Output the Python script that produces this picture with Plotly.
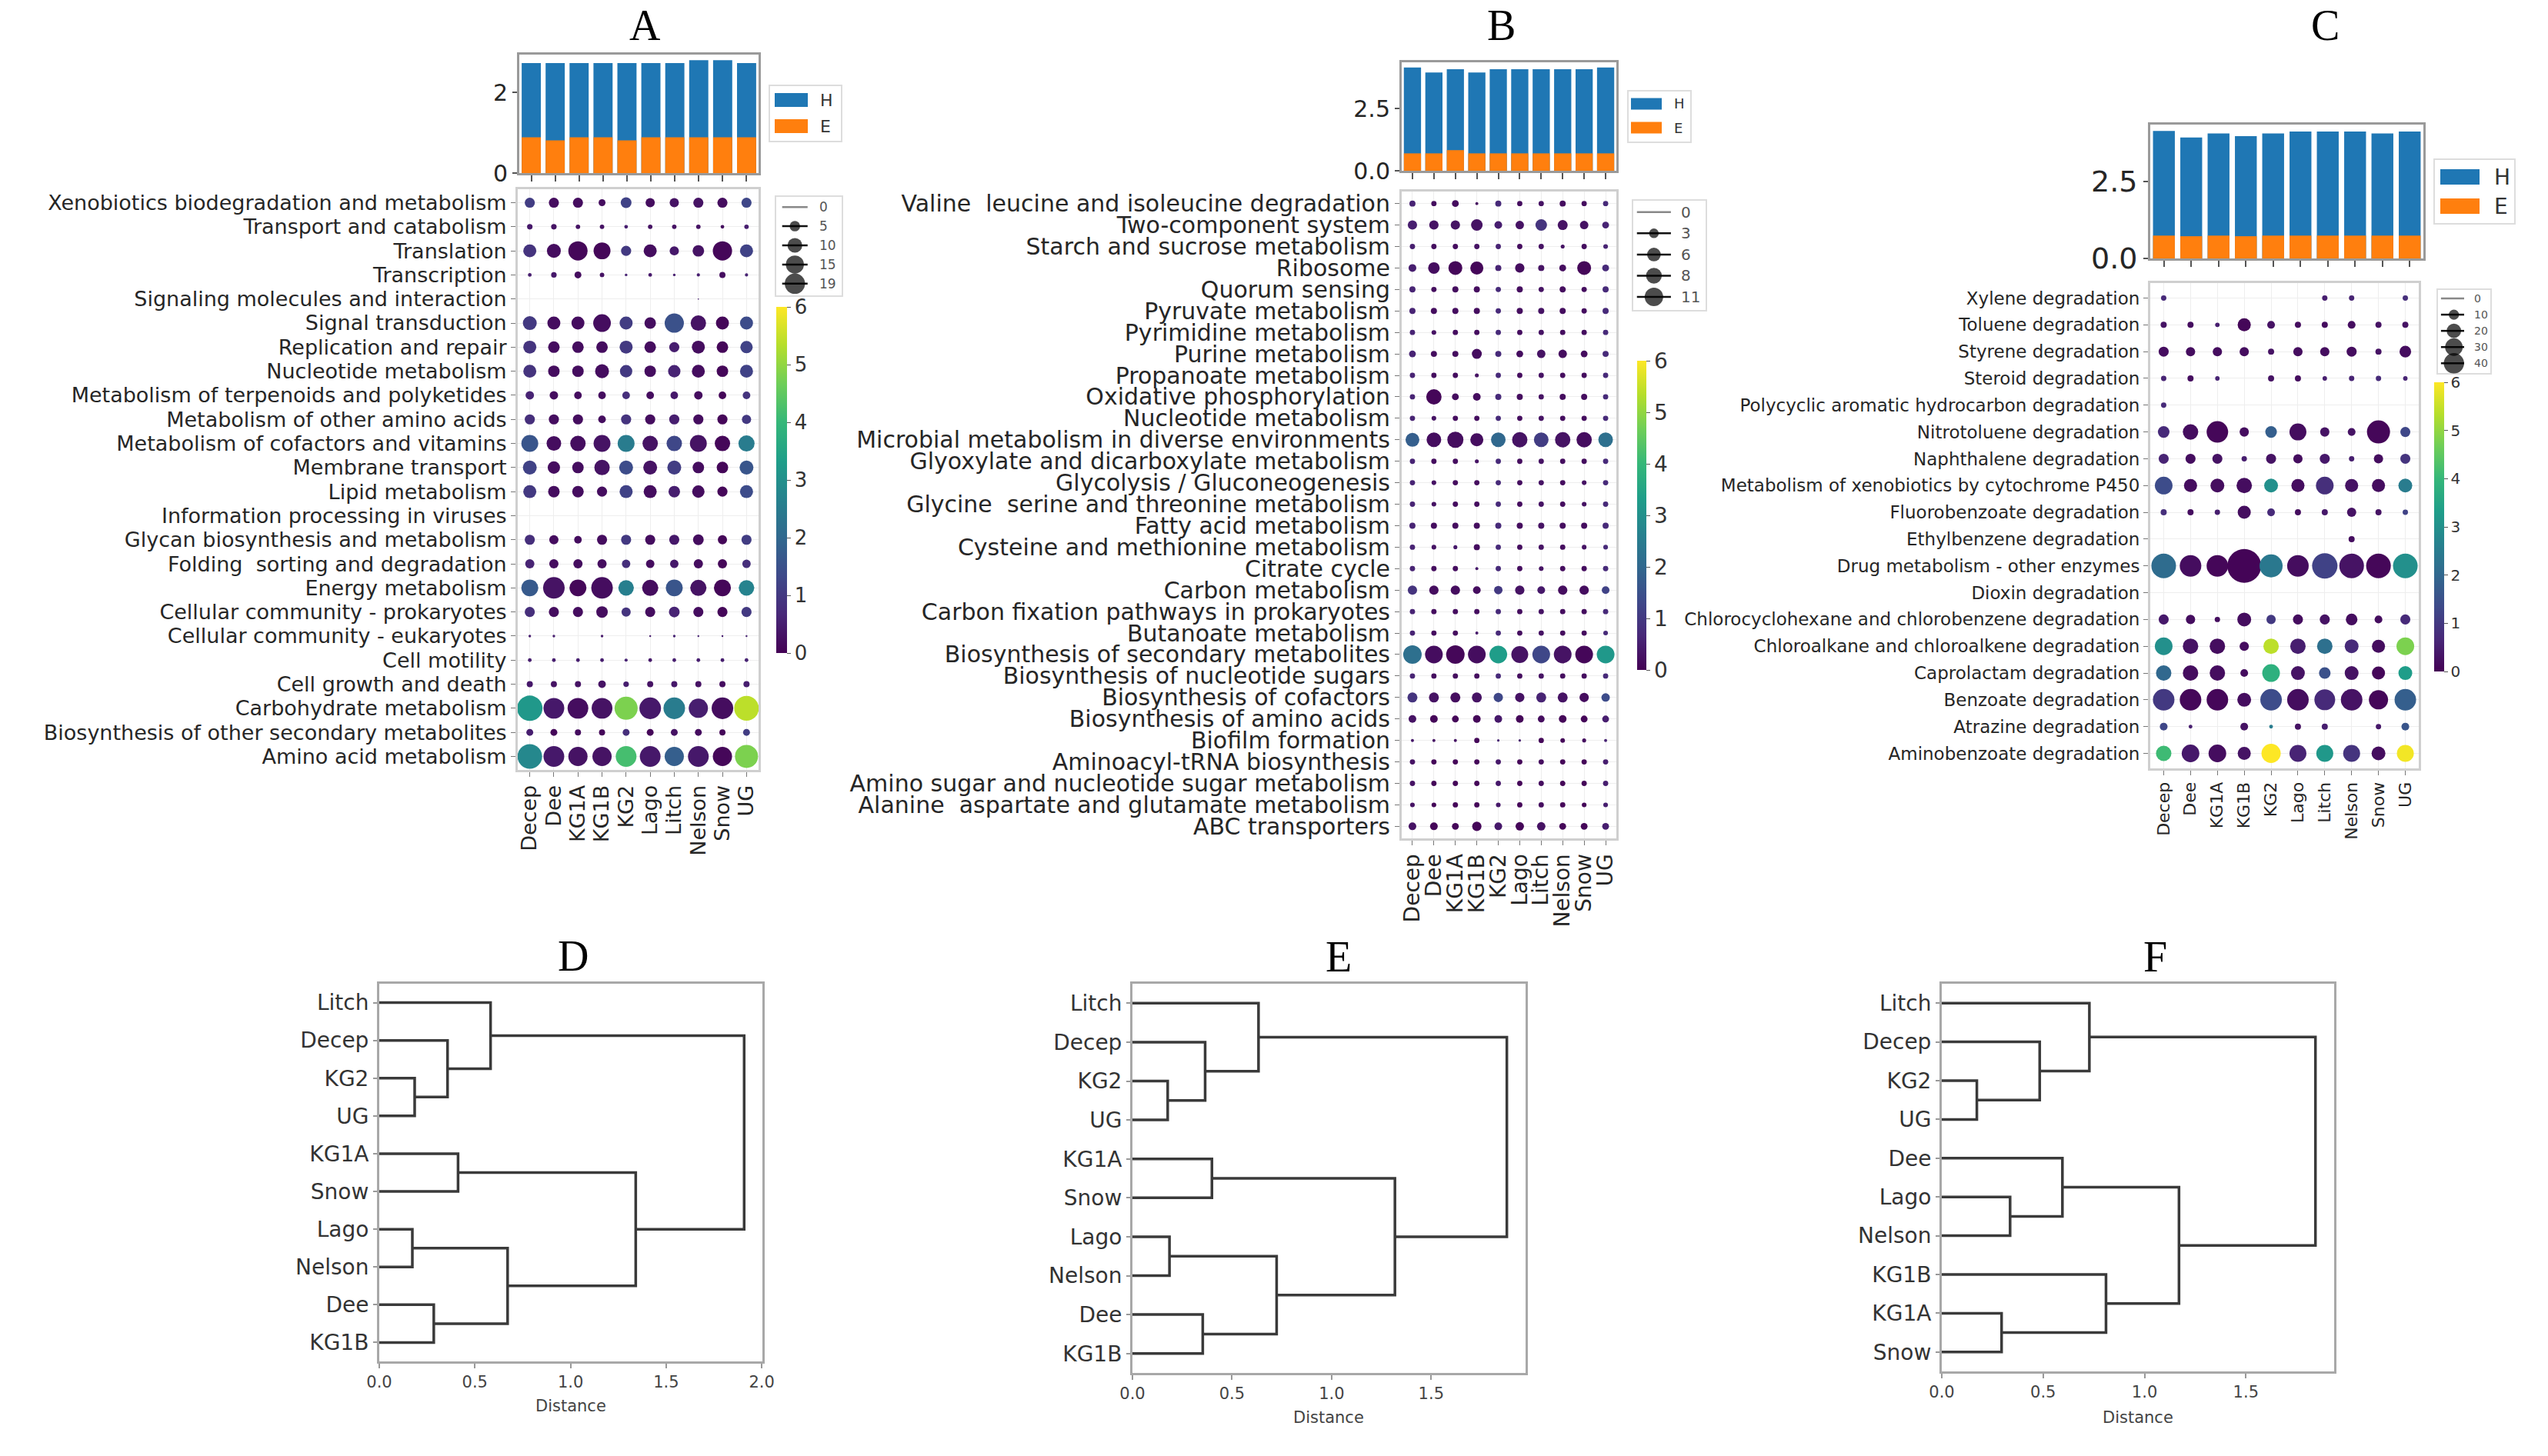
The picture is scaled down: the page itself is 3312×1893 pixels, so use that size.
import plotly.graph_objects as go

W, H = 3312, 1893

sites = ["Decep", "Dee", "KG1A", "KG1B", "KG2", "Lago", "Litch", "Nelson", "Snow", "UG"]

# ---------------- Panel A : KEGG level-2 pathways ----------------
a_shannon = [2.73, 2.73, 2.73, 2.73, 2.73, 2.73, 2.73, 2.80, 2.80, 2.73]
a_evenness = [0.89, 0.81, 0.89, 0.89, 0.81, 0.89, 0.89, 0.89, 0.89, 0.89]
a_pathways = [
    "Xenobiotics biodegradation and metabolism", "Transport and catabolism", "Translation",
    "Transcription", "Signaling molecules and interaction", "Signal transduction",
    "Replication and repair", "Nucleotide metabolism", "Metabolism of terpenoids and polyketides",
    "Metabolism of other amino acids", "Metabolism of cofactors and vitamins", "Membrane transport",
    "Lipid metabolism", "Information processing in viruses", "Glycan biosynthesis and metabolism",
    "Folding  sorting and degradation", "Energy metabolism", "Cellular community - prokaryotes",
    "Cellular community - eukaryotes", "Cell motility", "Cell growth and death",
    "Carbohydrate metabolism", "Biosynthesis of other secondary metabolites", "Amino acid metabolism",
]
a_abund = [
    [3.0, 3.0, 3.0, 1.4, 3.4, 2.5, 2.5, 3.0, 3.0, 3.0],
    [0.9, 0.9, 0.6, 0.6, 0.4, 0.6, 0.6, 0.6, 0.4, 0.6],
    [5.0, 5.7, 10.9, 8.4, 3.0, 5.0, 2.5, 3.9, 10.9, 5.0],
    [0.4, 0.9, 1.4, 0.6, 0.2, 0.4, 0.2, 0.3, 1.1, 0.3],
    [0, 0, 0, 0, 0, 0, 0, 0.05, 0, 0],
    [5.7, 5.0, 5.0, 9.2, 5.0, 3.9, 10.9, 7.0, 5.0, 5.0],
    [5.0, 3.9, 3.9, 3.9, 5.0, 3.9, 3.0, 5.0, 3.9, 4.5],
    [5.0, 3.9, 3.9, 5.7, 4.5, 3.9, 4.5, 5.0, 3.9, 5.0],
    [2.1, 2.1, 1.7, 1.7, 1.7, 1.7, 1.7, 2.1, 1.7, 1.7],
    [3.0, 3.0, 3.0, 1.7, 3.0, 3.0, 3.0, 3.0, 3.0, 2.5],
    [8.4, 6.3, 7.0, 8.4, 8.4, 7.0, 7.0, 8.4, 7.0, 7.7],
    [5.7, 4.5, 3.9, 7.0, 5.7, 5.7, 5.7, 3.9, 3.9, 5.7],
    [5.0, 3.9, 3.9, 3.0, 5.0, 5.0, 3.9, 4.5, 3.0, 5.0],
    [0, 0, 0, 0, 0, 0, 0, 0, 0, 0],
    [3.0, 2.5, 1.7, 3.0, 3.0, 3.0, 3.0, 3.4, 2.5, 3.0],
    [2.5, 2.5, 2.5, 2.5, 2.1, 2.1, 2.1, 2.5, 2.5, 2.1],
    [8.4, 13.7, 8.4, 13.7, 7.0, 7.7, 8.4, 7.7, 8.4, 7.0],
    [3.0, 3.0, 3.0, 3.9, 2.5, 3.0, 3.4, 3.0, 3.0, 3.0],
    [0.2, 0.2, 0, 0.2, 0, 0.1, 0.2, 0.1, 0.1, 0.1],
    [0.4, 0.4, 0.4, 0.4, 0.3, 0.4, 0.4, 0.4, 0.4, 0.4],
    [1.1, 1.1, 1.1, 1.7, 0.9, 1.1, 1.1, 1.1, 1.1, 1.1],
    [19.0, 12.7, 12.7, 12.7, 15.7, 13.7, 13.7, 10.9, 13.7, 17.9],
    [1.4, 1.4, 1.1, 1.1, 1.4, 1.4, 1.4, 1.4, 1.1, 1.4],
    [17.9, 12.7, 10.9, 10.9, 12.7, 12.7, 10.9, 12.7, 10.9, 15.7],
]
a_color = [
    [1.1, 0.2, 0.2, 0.2, 1.2, 0.2, 0.3, 0.3, 0.2, 1.3],
    [0.4, 0.3, 0.3, 0.3, 0.5, 0.3, 0.3, 0.3, 0.2, 0.5],
    [0.9, 0.2, 0.1, 0.1, 1.0, 0.2, 0.4, 0.3, 0.1, 1.2],
    [0.5, 0.4, 0.2, 0.3, 0.6, 0.4, 0.5, 0.5, 0.2, 0.6],
    [0, 0, 0, 0, 0, 0, 0, 0.5, 0, 0],
    [1.0, 0.2, 0.2, 0.2, 1.1, 0.2, 1.5, 0.3, 0.1, 1.4],
    [0.9, 0.2, 0.2, 0.2, 1.0, 0.2, 0.5, 0.2, 0.1, 1.2],
    [0.9, 0.2, 0.2, 0.2, 1.0, 0.2, 0.6, 0.2, 0.1, 1.2],
    [0.6, 0.2, 0.2, 0.2, 0.8, 0.2, 0.4, 0.2, 0.1, 0.9],
    [0.8, 0.2, 0.2, 0.2, 0.9, 0.2, 0.5, 0.2, 0.1, 1.0],
    [1.6, 0.2, 0.2, 0.3, 2.5, 0.3, 1.3, 0.3, 0.1, 2.5],
    [1.2, 0.2, 0.2, 0.3, 1.4, 0.3, 1.1, 0.2, 0.1, 1.6],
    [1.0, 0.2, 0.2, 0.2, 1.2, 0.2, 0.5, 0.2, 0.1, 1.4],
    [0, 0, 0, 0, 0, 0, 0, 0, 0, 0],
    [0.8, 0.2, 0.2, 0.2, 1.0, 0.2, 0.4, 0.2, 0.1, 1.1],
    [0.6, 0.2, 0.2, 0.2, 0.8, 0.2, 0.4, 0.2, 0.1, 0.8],
    [1.7, 0.3, 0.1, 0.2, 2.6, 0.2, 1.6, 0.3, 0.1, 2.7],
    [0.8, 0.2, 0.2, 0.2, 0.9, 0.2, 0.6, 0.2, 0.1, 1.0],
    [0.5, 0.5, 0, 0.4, 0, 0.5, 0.6, 0.6, 0.5, 0.6],
    [0.5, 0.5, 0.5, 0.5, 0.6, 0.4, 0.5, 0.5, 0.5, 0.6],
    [0.4, 0.3, 0.3, 0.3, 0.5, 0.3, 0.4, 0.3, 0.2, 0.5],
    [3.2, 0.4, 0.2, 0.3, 4.8, 0.4, 2.5, 0.5, 0.2, 5.4],
    [0.5, 0.1, 0.2, 0.1, 0.8, 0.1, 0.3, 0.2, 0.1, 1.1],
    [2.8, 0.4, 0.3, 0.3, 4.2, 0.4, 1.8, 0.4, 0.1, 4.8],
]
a_size_ticks = [0, 5, 10, 15, 19]

# ---------------- Panel B : KEGG level-3 pathways ----------------
b_shannon = [4.16, 3.96, 4.09, 3.96, 4.09, 4.09, 4.09, 4.09, 4.09, 4.16]
b_evenness = [0.70, 0.70, 0.83, 0.70, 0.70, 0.70, 0.70, 0.70, 0.70, 0.70]
b_pathways = [
    "Valine  leucine and isoleucine degradation", "Two-component system",
    "Starch and sucrose metabolism", "Ribosome", "Quorum sensing", "Pyruvate metabolism",
    "Pyrimidine metabolism", "Purine metabolism", "Propanoate metabolism",
    "Oxidative phosphorylation", "Nucleotide metabolism",
    "Microbial metabolism in diverse environments", "Glyoxylate and dicarboxylate metabolism",
    "Glycolysis / Gluconeogenesis", "Glycine  serine and threonine metabolism",
    "Fatty acid metabolism", "Cysteine and methionine metabolism", "Citrate cycle",
    "Carbon metabolism", "Carbon fixation pathways in prokaryotes", "Butanoate metabolism",
    "Biosynthesis of secondary metabolites", "Biosynthesis of nucleotide sugars",
    "Biosynthesis of cofactors", "Biosynthesis of amino acids", "Biofilm formation",
    "Aminoacyl-tRNA biosynthesis", "Amino sugar and nucleotide sugar metabolism",
    "Alanine  aspartate and glutamate metabolism", "ABC transporters",
]
b_abund = [
    [1.2, 0.9, 1.5, 0.3, 1.2, 0.9, 0.9, 1.2, 0.9, 0.9],
    [2.8, 2.8, 2.8, 4.3, 1.9, 2.3, 4.3, 3.2, 2.3, 1.5],
    [0.9, 0.9, 0.9, 0.9, 0.9, 0.9, 0.9, 0.5, 0.9, 0.7],
    [1.9, 4.3, 6.2, 5.5, 1.2, 2.8, 1.2, 1.5, 6.2, 1.5],
    [1.2, 0.9, 1.2, 1.2, 0.9, 1.2, 0.9, 1.2, 0.9, 1.2],
    [1.2, 1.2, 1.2, 1.2, 0.9, 1.2, 1.2, 1.2, 0.9, 1.2],
    [0.9, 0.7, 0.9, 0.9, 0.9, 0.9, 0.9, 0.9, 0.9, 0.9],
    [1.5, 1.2, 1.2, 3.2, 1.2, 1.5, 2.3, 2.3, 1.5, 1.2],
    [0.9, 0.9, 0.9, 0.5, 0.9, 0.9, 0.9, 0.9, 0.9, 0.9],
    [0.9, 7.6, 1.5, 1.9, 1.2, 1.2, 0.9, 1.2, 1.2, 0.9],
    [0.9, 0.7, 0.9, 0.9, 0.9, 0.9, 0.9, 0.9, 0.9, 0.9],
    [6.2, 6.9, 8.4, 5.5, 6.9, 7.6, 6.9, 7.6, 7.6, 6.9],
    [0.9, 0.9, 0.9, 0.5, 0.9, 0.9, 0.9, 0.9, 0.9, 0.9],
    [0.9, 0.7, 0.9, 0.9, 0.9, 0.9, 0.9, 0.9, 0.7, 0.9],
    [0.9, 0.7, 0.9, 0.9, 0.9, 0.9, 0.9, 0.9, 0.7, 0.9],
    [1.2, 1.2, 1.2, 1.2, 1.2, 1.2, 1.2, 1.2, 1.2, 1.2],
    [0.9, 0.7, 0.5, 1.2, 0.9, 0.9, 0.9, 0.9, 0.7, 0.7],
    [0.9, 0.9, 0.9, 0.3, 0.9, 0.9, 0.7, 0.9, 0.9, 0.9],
    [2.8, 2.8, 2.8, 1.9, 2.3, 2.8, 1.9, 2.8, 2.8, 1.9],
    [0.9, 0.9, 0.9, 0.9, 0.9, 0.9, 0.9, 0.9, 0.9, 0.9],
    [0.9, 0.9, 0.9, 0.3, 0.9, 0.9, 0.9, 0.9, 0.9, 0.7],
    [11.0, 10.1, 11.0, 10.1, 10.1, 9.2, 10.1, 10.1, 10.1, 10.1],
    [0.9, 0.9, 0.9, 0.9, 0.9, 0.9, 0.9, 0.9, 0.9, 0.9],
    [3.2, 3.2, 3.2, 3.2, 2.8, 2.8, 3.2, 3.2, 2.8, 2.3],
    [1.9, 1.9, 1.5, 1.9, 1.9, 1.9, 1.5, 1.9, 1.5, 1.5],
    [0.3, 0.3, 0.3, 0.9, 0.2, 0.2, 0.9, 0.7, 0.5, 0.3],
    [0.9, 0.9, 0.9, 0.9, 0.9, 0.9, 0.9, 0.9, 0.9, 0.9],
    [0.9, 0.9, 0.9, 0.9, 0.9, 0.9, 0.9, 0.9, 0.9, 0.9],
    [0.7, 0.7, 0.9, 0.9, 0.7, 0.9, 0.9, 0.9, 0.7, 0.7],
    [1.9, 1.9, 1.5, 2.8, 1.9, 2.3, 2.3, 1.5, 1.5, 1.5],
]
b_color = [
    [0.6, 0.2, 0.2, 0.2, 0.7, 0.2, 0.3, 0.2, 0.2, 0.7],
    [0.5, 0.3, 0.3, 0.3, 0.5, 0.3, 0.9, 0.3, 0.3, 0.6],
    [0.5, 0.2, 0.2, 0.3, 0.6, 0.2, 0.3, 0.3, 0.2, 0.6],
    [0.5, 0.2, 0.1, 0.1, 0.6, 0.2, 0.3, 0.2, 0.1, 0.7],
    [0.6, 0.2, 0.2, 0.2, 0.7, 0.2, 0.3, 0.2, 0.2, 0.7],
    [0.6, 0.2, 0.2, 0.2, 0.7, 0.2, 0.3, 0.2, 0.2, 0.7],
    [0.6, 0.3, 0.2, 0.2, 0.7, 0.2, 0.3, 0.2, 0.2, 0.7],
    [0.6, 0.2, 0.2, 0.2, 0.7, 0.2, 0.3, 0.2, 0.2, 0.7],
    [0.6, 0.2, 0.2, 0.3, 0.7, 0.2, 0.3, 0.2, 0.2, 0.7],
    [0.6, 0.1, 0.2, 0.2, 0.7, 0.2, 0.3, 0.2, 0.2, 0.7],
    [0.6, 0.3, 0.2, 0.2, 0.7, 0.2, 0.3, 0.2, 0.2, 0.7],
    [1.8, 0.2, 0.2, 0.2, 2.0, 0.3, 1.1, 0.3, 0.2, 2.2],
    [0.6, 0.2, 0.2, 0.3, 0.7, 0.2, 0.3, 0.2, 0.2, 0.7],
    [0.6, 0.3, 0.2, 0.2, 0.7, 0.2, 0.3, 0.2, 0.3, 0.7],
    [0.6, 0.3, 0.2, 0.2, 0.7, 0.2, 0.3, 0.2, 0.3, 0.7],
    [0.6, 0.2, 0.2, 0.2, 0.7, 0.2, 0.3, 0.2, 0.2, 0.7],
    [0.6, 0.3, 0.4, 0.2, 0.7, 0.2, 0.3, 0.2, 0.3, 0.7],
    [0.6, 0.2, 0.2, 0.4, 0.7, 0.2, 0.3, 0.2, 0.2, 0.7],
    [0.9, 0.2, 0.2, 0.2, 1.0, 0.3, 0.4, 0.2, 0.2, 1.2],
    [0.6, 0.2, 0.2, 0.2, 0.7, 0.2, 0.3, 0.2, 0.2, 0.7],
    [0.6, 0.2, 0.2, 0.4, 0.7, 0.2, 0.3, 0.2, 0.2, 0.7],
    [2.2, 0.2, 0.1, 0.2, 3.3, 0.3, 1.3, 0.3, 0.1, 3.2],
    [0.6, 0.2, 0.2, 0.2, 0.7, 0.2, 0.3, 0.2, 0.2, 0.7],
    [0.9, 0.3, 0.2, 0.3, 1.3, 0.3, 0.6, 0.3, 0.2, 1.4],
    [0.3, 0.1, 0.1, 0.1, 0.4, 0.1, 0.2, 0.1, 0.1, 0.5],
    [0.4, 0.3, 0.3, 0.1, 0.6, 0.5, 0.1, 0.1, 0.2, 0.6],
    [0.3, 0.1, 0.1, 0.1, 0.4, 0.1, 0.2, 0.1, 0.1, 0.5],
    [0.3, 0.1, 0.1, 0.1, 0.4, 0.1, 0.2, 0.1, 0.1, 0.5],
    [0.3, 0.1, 0.1, 0.1, 0.4, 0.1, 0.2, 0.1, 0.1, 0.5],
    [0.3, 0.1, 0.1, 0.1, 0.4, 0.1, 0.3, 0.1, 0.1, 0.5],
]
b_size_ticks = [0, 3, 6, 8, 11]

# ---------------- Panel C : xenobiotic degradation pathways ----------------
c_shannon = [4.13, 3.92, 4.05, 3.96, 4.05, 4.11, 4.11, 4.11, 4.05, 4.11]
c_evenness = [0.74, 0.72, 0.74, 0.72, 0.74, 0.74, 0.74, 0.74, 0.74, 0.74]
c_pathways = [
    "Xylene degradation", "Toluene degradation", "Styrene degradation", "Steroid degradation",
    "Polycyclic aromatic hydrocarbon degradation", "Nitrotoluene degradation",
    "Naphthalene degradation", "Metabolism of xenobiotics by cytochrome P450",
    "Fluorobenzoate degradation", "Ethylbenzene degradation", "Drug metabolism - other enzymes",
    "Dioxin degradation", "Chlorocyclohexane and chlorobenzene degradation",
    "Chloroalkane and chloroalkene degradation", "Caprolactam degradation",
    "Benzoate degradation", "Atrazine degradation", "Aminobenzoate degradation",
]
c_abund = [
    [1.0, 0, 0, 0, 0, 0, 1.0, 1.0, 0, 1.0],
    [1.3, 1.3, 0.7, 6.0, 2.1, 1.3, 1.3, 2.1, 1.3, 1.3],
    [3.5, 3.0, 3.0, 3.0, 1.3, 3.0, 3.0, 3.5, 1.3, 4.7],
    [1.0, 1.3, 0.7, 0, 1.3, 1.3, 0.7, 1.0, 1.0, 0.7],
    [1.0, 0, 0, 0, 0, 0, 0, 0, 0, 0],
    [4.7, 8.3, 16.2, 3.0, 4.7, 10.0, 3.0, 2.1, 18.6, 3.5],
    [3.5, 3.5, 3.5, 1.0, 3.5, 3.0, 3.5, 1.0, 3.0, 3.5],
    [10.9, 6.0, 6.7, 8.3, 6.7, 6.0, 10.9, 6.0, 6.0, 6.7],
    [1.3, 1.3, 1.0, 6.0, 2.1, 1.3, 1.3, 3.0, 1.3, 1.0],
    [0, 0, 0, 0, 0, 0, 0, 1.3, 0, 0],
    [21.2, 16.2, 16.2, 40.0, 18.6, 16.2, 22.5, 21.2, 21.2, 21.2],
    [0, 0, 0, 0, 0, 0, 0, 0, 0, 0],
    [3.5, 3.0, 1.0, 6.7, 3.0, 3.5, 3.5, 4.7, 2.1, 3.5],
    [10.9, 8.3, 8.3, 3.0, 8.3, 8.3, 8.3, 6.7, 6.0, 10.9],
    [8.3, 8.3, 8.3, 2.1, 10.9, 6.7, 4.7, 6.7, 6.0, 6.7],
    [16.2, 16.2, 16.2, 6.7, 16.2, 16.2, 15.1, 16.2, 12.9, 16.2],
    [2.1, 0.5, 0, 2.1, 0.5, 1.3, 1.3, 0, 1.0, 2.1],
    [8.3, 10.9, 10.9, 6.0, 12.9, 10.0, 10.0, 10.0, 6.7, 10.0],
]
c_color = [
    [0.7, 0, 0, 0, 0, 0, 0.5, 0.6, 0, 0.8],
    [0.3, 0.2, 0.5, 0.1, 0.3, 0.2, 0.2, 0.2, 0.3, 0.3],
    [0.2, 0.2, 0.2, 0.2, 0.3, 0.2, 0.2, 0.2, 0.3, 0.2],
    [0.6, 0.2, 0.6, 0, 0.3, 0.2, 0.5, 0.6, 0.7, 0.6],
    [0.7, 0, 0, 0, 0, 0, 0, 0, 0, 0],
    [0.7, 0.2, 0.1, 0.2, 1.8, 0.2, 0.3, 0.3, 0.1, 1.3],
    [0.6, 0.2, 0.3, 0.5, 0.3, 0.2, 0.4, 0.5, 0.2, 0.9],
    [1.4, 0.2, 0.2, 0.2, 3.0, 0.2, 0.8, 0.3, 0.2, 2.5],
    [0.8, 0.2, 0.5, 0.2, 0.7, 0.2, 0.4, 0.3, 0.3, 1.2],
    [0, 0, 0, 0, 0, 0, 0, 0.2, 0, 0],
    [2.1, 0.2, 0.1, 0.05, 2.4, 0.2, 1.2, 0.3, 0.1, 3.0],
    [0, 0, 0, 0, 0, 0, 0, 0, 0, 0],
    [0.4, 0.2, 0.2, 0.2, 1.0, 0.2, 0.3, 0.2, 0.2, 0.7],
    [3.0, 0.3, 0.2, 0.2, 5.4, 0.5, 2.2, 0.7, 0.2, 4.8],
    [2.0, 0.2, 0.2, 0.2, 3.8, 0.3, 1.5, 0.3, 0.1, 3.3],
    [1.0, 0.1, 0.1, 0.2, 1.4, 0.2, 0.7, 0.3, 0.1, 1.8],
    [1.3, 0.5, 0, 0.3, 2.5, 0.3, 0.5, 0, 0.4, 1.6],
    [4.1, 0.4, 0.2, 0.3, 6.0, 0.6, 3.2, 0.9, 0.2, 5.9],
]
c_size_ticks = [0, 10, 20, 30, 40]

# ---------------- Dendrograms D, E, F : (left, right, distance) ----------------
tree_D = (("Litch", ("Decep", ("KG2", "UG", 0.185), 0.357), 0.582),
          (("KG1A", "Snow", 0.412), (("Lago", "Nelson", 0.173), ("Dee", "KG1B", 0.285), 0.671), 1.341),
          1.908)
tree_E = (("Litch", ("Decep", ("KG2", "UG", 0.177), 0.365), 0.633),
          (("KG1A", "Snow", 0.399), (("Lago", "Nelson", 0.186), ("Dee", "KG1B", 0.353), 0.724), 1.318),
          1.880)
tree_F = (("Litch", ("Decep", ("KG2", "UG", 0.173), 0.483), 0.728),
          (("Dee", ("Lago", "Nelson", 0.337), 0.595), ("KG1B", ("KG1A", "Snow", 0.295), 0.810), 1.170),
          1.843)

# =====================================================================
BLUE, ORANGE = "#1f77b4", "#ff7f0e"
FONT = "DejaVu Sans"
TXT = "#262626"


def px_x(x):
    return x / W


def px_y(y):
    return 1 - y / H


def dom_x(x0, x1):
    return [x0 / W, x1 / W]


def dom_y(y0, y1):
    return [1 - y1 / H, 1 - y0 / H]


fig = go.Figure()
layout = dict(width=W, height=H, margin=dict(l=0, r=0, t=0, b=0, pad=0, autoexpand=False),
              paper_bgcolor="white", plot_bgcolor="white", showlegend=False,
              font=dict(family=FONT, color=TXT), barmode="overlay")
shapes, annotations = [], []


def ax_keys(n):
    s = "" if n == 1 else str(n)
    return "xaxis" + s, "yaxis" + s, "x" + s, "y" + s


# ---------- bar panels ----------
def bar_panel(n, shannon, evenness, xd, yd, dtick, fmt, fsize):
    xk, yk, xr, yr = ax_keys(n)
    fig.add_trace(go.Bar(x=list(range(len(sites))), y=shannon, width=0.8, marker=dict(color=BLUE, line=dict(width=0)),
                         name="H", xaxis=xr, yaxis=yr))
    fig.add_trace(go.Bar(x=list(range(len(sites))), y=evenness, width=0.8, marker=dict(color=ORANGE, line=dict(width=0)),
                         name="E", xaxis=xr, yaxis=yr))
    layout[xk] = dict(domain=dom_x(*xd), anchor=yr, range=[-0.5, 9.5], tickvals=list(range(10)), automargin=False,
                      showticklabels=False, ticks="outside", ticklen=8, tickcolor="#555", tickwidth=2,
                      showline=True, mirror=True, linecolor="#9a9a9a", linewidth=3, showgrid=False, zeroline=False)
    layout[yk] = dict(domain=dom_y(*yd), anchor=xr, range=[0, 1.05 * max(shannon)], dtick=dtick, tickformat=fmt,
                      automargin=False, ticks="outside", ticklen=6, tickcolor="#555", tickwidth=2,
                      tickfont=dict(size=fsize, color=TXT),
                      showline=True, mirror=True, linecolor="#9a9a9a", linewidth=3, showgrid=False, zeroline=False)


bar_panel(1, a_shannon, a_evenness, (675, 986), (71, 225), 2, "d", 30)
bar_panel(3, b_shannon, b_evenness, (1822, 2101), (81, 222), 2.5, ".1f", 30)
bar_panel(5, c_shannon, c_evenness, (2795, 3150), (162, 336), 2.5, ".1f", 38)


def bar_legend(box, sw_x, yh, ye, half, tx, fsize):
    shapes.append(dict(type="rect", xref="paper", yref="paper", x0=px_x(box[0]), x1=px_x(box[1]),
                       y0=px_y(box[3]), y1=px_y(box[2]), line=dict(color="#dddddd", width=2), fillcolor="white",
                       layer="above"))
    for yc, col, lab in ((yh, BLUE, "H"), (ye, ORANGE, "E")):
        shapes.append(dict(type="rect", xref="paper", yref="paper", x0=px_x(sw_x[0]), x1=px_x(sw_x[1]),
                           y0=px_y(yc + half), y1=px_y(yc - half), line=dict(width=0), fillcolor=col, layer="above"))
        annotations.append(dict(xref="paper", yref="paper", x=px_x(tx), y=px_y(yc), text=lab, showarrow=False,
                                xanchor="left", yanchor="middle", font=dict(size=fsize, color="#333")))


bar_legend((1000, 1094, 111, 184), (1007, 1050), 130, 164, 9, 1064, 22)
bar_legend((2116, 2198, 118, 185), (2120, 2160), 135, 166, 7.5, 2174, 18)
bar_legend((3164, 3269, 207, 291), (3172, 3223), 230, 268, 10, 3240, 28)


# ---------- dot panels ----------
def dot_panel(n, pathways, abund, colors, dmax, vmax, cax, xd, yd, yfont, xfont):
    xk, yk, xr, yr = ax_keys(n)
    xs, ys, ss, cs = [], [], [], []
    for i, row in enumerate(abund):
        for j, v in enumerate(row):
            if v > 0:
                xs.append(j)
                ys.append(i)
                ss.append(dmax * (v / vmax) ** 0.5)
                cs.append(colors[i][j])
    fig.add_trace(go.Scatter(x=xs, y=ys, mode="markers", xaxis=xr, yaxis=yr,
                             marker=dict(size=ss, color=cs, coloraxis=cax, line=dict(width=0), opacity=1)))
    nrow = len(pathways)
    layout[xk] = dict(domain=dom_x(*xd), anchor=yr, range=[-0.5, 9.5], tickvals=list(range(10)), ticktext=sites,
                      automargin=False, tickangle=-90, ticks="outside", ticklen=6, tickcolor="#777",
                      tickfont=dict(size=xfont, color=TXT),
                      showline=True, mirror=True, linecolor="#cfcfcf", linewidth=3, showgrid=True,
                      gridcolor="#eeeeee", gridwidth=1, zeroline=False)
    layout[yk] = dict(domain=dom_y(*yd), anchor=xr, range=[nrow - 1 + 0.56, -0.56], tickvals=list(range(nrow)),
                      automargin=False, ticktext=pathways, ticks="outside", ticklen=6, tickcolor="#777",
                      tickfont=dict(size=yfont, color=TXT), showline=True, mirror=True, linecolor="#cfcfcf",
                      linewidth=3, showgrid=True, gridcolor="#eeeeee", gridwidth=1, zeroline=False)


dot_panel(2, a_pathways, a_abund, a_color, 33, max(a_size_ticks), "coloraxis", (673, 986), (246, 1001), 27, 27)
dot_panel(4, b_pathways, b_abund, b_color, 24, max(b_size_ticks), "coloraxis2", (1822, 2101), (249, 1090), 30, 28)
dot_panel(6, c_pathways, c_abund, c_color, 44, max(c_size_ticks), "coloraxis3", (2795, 3144), (368, 999), 23, 22)


def cbar(x, top, length, thick, fsize):
    return dict(colorscale="Viridis", cmin=0, cmax=6, showscale=True,
                colorbar=dict(x=px_x(x), xanchor="left", y=px_y(top), yanchor="top", len=length, lenmode="pixels",
                              thickness=thick, thicknessmode="pixels", xpad=0, ypad=0, outlinewidth=0,
                              tickvals=[0, 1, 2, 3, 4, 5, 6], ticks="outside", ticklen=5, tickcolor="#555",
                              tickfont=dict(size=fsize, color="#333")))


layout["coloraxis"] = cbar(1009, 399, 450, 14, 26)
layout["coloraxis2"] = cbar(2128, 469, 402, 12, 28)
layout["coloraxis3"] = cbar(3164, 497, 376, 13, 20)


# ---------- size legends ----------
def size_legend(n, ticks, dmax, scale, box, line_x, mark_x, text_x, fsize):
    xk, yk, xr, yr = ax_keys(n)
    vmax = max(ticks)
    shapes.append(dict(type="rect", xref="paper", yref="paper", x0=px_x(box[0]), x1=px_x(box[1]),
                       y0=px_y(box[3]), y1=px_y(box[2]), line=dict(color="#dddddd", width=2), fillcolor="white",
                       layer="below"))
    for i, v in enumerate(ticks):
        fig.add_trace(go.Scatter(x=list(line_x), y=[i, i], mode="lines", xaxis=xr, yaxis=yr,
                                 line=dict(color="#888" if v == 0 else "#111", width=2.5)))
        annotations.append(dict(xref=xr, yref=yr, x=text_x, y=i, text=str(v), showarrow=False, xanchor="left",
                                yanchor="middle", font=dict(size=fsize, color="#555")))
    xs = [mark_x for v in ticks if v > 0]
    ys = [i for i, v in enumerate(ticks) if v > 0]
    ss = [scale * dmax * (v / vmax) ** 0.5 for v in ticks if v > 0]
    fig.add_trace(go.Scatter(x=xs, y=ys, mode="markers", xaxis=xr, yaxis=yr,
                             marker=dict(size=ss, color="black", line=dict(width=0))))
    layout[xk] = dict(domain=dom_x(box[0], box[1]), anchor=yr, range=[0, 1], visible=False, fixedrange=True,
                      automargin=False)
    layout[yk] = dict(domain=dom_y(box[2], box[3]), anchor=xr, range=[4.65, -0.57], visible=False, fixedrange=True,
                      automargin=False)


size_legend(10, a_size_ticks, 33, 0.8, (1008, 1095, 255, 385), (0.10, 0.48), 0.29, 0.63, 17)
size_legend(11, b_size_ticks, 24, 1.0, (2122, 2218, 260, 404), (0.06, 0.52), 0.29, 0.64, 20)
size_legend(12, c_size_ticks, 44, 0.6, (3168, 3238, 376, 486), (0.07, 0.50), 0.31, 0.66, 14)


# ---------- dendrograms ----------
def dendro(n, tree, xd, yd, dist_y):
    xk, yk, xr, yr = ax_keys(n)
    leaves, sx, sy = [], [], []

    def walk(node):
        if isinstance(node, str):
            leaves.append(node)
            return len(leaves) - 1, 0.0
        left, right, h = node
        yl, hl = walk(left)
        yrr, hr = walk(right)
        sx.extend([hl, h, h, hr, None])
        sy.extend([yl, yl, yrr, yrr, None])
        return (yl + yrr) / 2, h

    _, top = walk(tree)
    fig.add_trace(go.Scatter(x=sx, y=sy, mode="lines", xaxis=xr, yaxis=yr,
                             line=dict(color="#3a3a3a", width=3.5)))
    layout[xk] = dict(domain=dom_x(*xd), anchor=yr, range=[0, 1.05 * top], dtick=0.5, tick0=0, tickformat=".1f",
                      automargin=False, ticks="outside", ticklen=6, tickcolor="#999", tickwidth=2,
                      tickfont=dict(size=21, color="#444"),
                      showline=True, mirror=True, linecolor="#a8a8a8", linewidth=3, showgrid=False, zeroline=False)
    layout[yk] = dict(domain=dom_y(*yd), anchor=xr, range=[len(leaves) - 0.5, -0.5], automargin=False,
                      tickvals=list(range(len(leaves))), ticktext=leaves, ticks="outside", ticklen=5,
                      tickcolor="#999", tickwidth=2, tickfont=dict(size=28, color="#333"),
                      showline=True, mirror=True, linecolor="#a8a8a8", linewidth=3, showgrid=False, zeroline=False)
    annotations.append(dict(xref="paper", yref="paper", x=px_x((xd[0] + xd[1]) / 2), y=px_y(dist_y),
                            text="Distance", showarrow=False, xanchor="center", yanchor="middle",
                            font=dict(size=21, color="#444")))


dendro(7, tree_D, (493, 991), (1279, 1770), 1828)
dendro(8, tree_E, (1472, 1983), (1279, 1785), 1843)
dendro(9, tree_F, (2524, 3034), (1279, 1783), 1843)

# ---------- panel letters ----------
for letter, x, y, anchor in (("A", 838, 0, "top"), ("B", 1951, 0, "top"), ("C", 3022, 0, "top"),
                             ("D", 745, 1243, "middle"), ("E", 1740, 1244, "middle"), ("F", 2801, 1244, "middle")):
    annotations.append(dict(xref="paper", yref="paper", x=px_x(x), y=px_y(y), text=letter, showarrow=False,
                            xanchor="center", yanchor=anchor,
                            font=dict(family="Liberation Serif", size=56, color="black")))

layout["shapes"] = shapes
layout["annotations"] = annotations
fig.update_layout(**layout)

post = (
    "var de=document.documentElement, b=document.body;"
    "b.style.margin='0';b.style.padding='0';b.style.overflow='hidden';de.style.overflow='hidden';"
    "var gd=document.getElementById('{plot_id}');gd.style.position='fixed';gd.style.left='0px';gd.style.top='0px';"
)
fig.write_html("out.html", config={"displayModeBar": False}, post_script=post)
